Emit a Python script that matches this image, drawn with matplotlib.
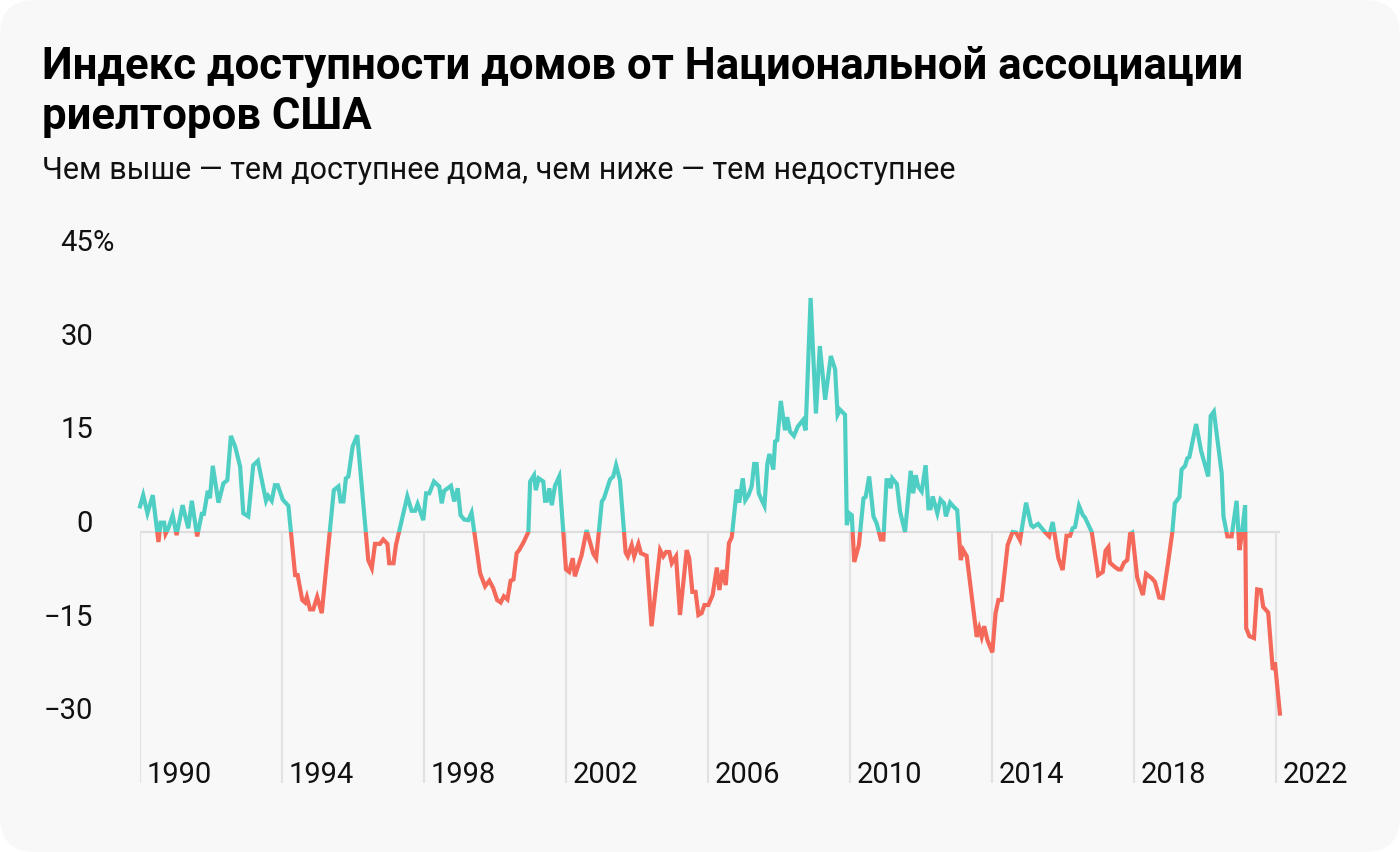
import matplotlib
matplotlib.use("Agg")
import matplotlib.pyplot as plt
import matplotlib.transforms as mtransforms
from matplotlib.patches import FancyBboxPatch, Rectangle
import numpy as np

plt.rcParams["font.family"] = ["Roboto", "DejaVu Sans"]

# данные: дата (десятичный год) и значение индекса, %
dates = [
    1990.00, 1990.09, 1990.21, 1990.36, 1990.52, 1990.58, 1990.68, 1990.72, 1990.80, 1990.92,
    1991.03, 1991.20, 1991.36, 1991.46, 1991.61, 1991.74, 1991.80, 1991.91, 1991.97, 1992.05,
    1992.21, 1992.35, 1992.46, 1992.56, 1992.68, 1992.82, 1992.91, 1993.05, 1993.19, 1993.32,
    1993.55, 1993.61, 1993.71, 1993.80, 1993.88, 1994.02, 1994.18, 1994.37, 1994.44, 1994.57,
    1994.65, 1994.70, 1994.79, 1994.88, 1994.99, 1995.12, 1995.46, 1995.59, 1995.65, 1995.73,
    1995.80, 1995.87, 1995.99, 1996.12, 1996.43, 1996.53, 1996.62, 1996.76, 1996.85, 1996.97,
    1997.02, 1997.14, 1997.21, 1997.53, 1997.65, 1997.75, 1997.82, 1997.98, 1998.06, 1998.15,
    1998.28, 1998.43, 1998.50, 1998.57, 1998.76, 1998.85, 1998.95, 1999.03, 1999.13, 1999.25,
    1999.34, 1999.58, 1999.72, 1999.84, 1999.95, 2000.06, 2000.16, 2000.25, 2000.35, 2000.44,
    2000.52, 2000.61, 2000.68, 2000.80, 2000.94, 2000.99, 2001.10, 2001.15, 2001.23, 2001.36,
    2001.41, 2001.46, 2001.53, 2001.60, 2001.69, 2001.81, 2002.00, 2002.09, 2002.19, 2002.25,
    2002.44, 2002.58, 2002.77, 2002.85, 2003.01, 2003.07, 2003.24, 2003.33, 2003.41, 2003.52,
    2003.68, 2003.74, 2003.85, 2003.92, 2004.04, 2004.11, 2004.27, 2004.41, 2004.65, 2004.74,
    2004.82, 2004.91, 2004.98, 2005.10, 2005.21, 2005.40, 2005.47, 2005.56, 2005.65, 2005.73,
    2005.82, 2005.90, 2006.01, 2006.13, 2006.25, 2006.32, 2006.41, 2006.50, 2006.59, 2006.67,
    2006.81, 2006.88, 2006.98, 2007.05, 2007.14, 2007.23, 2007.30, 2007.37, 2007.43, 2007.49,
    2007.59, 2007.67, 2007.73, 2007.84, 2007.89, 2007.95, 2008.05, 2008.12, 2008.17, 2008.23,
    2008.31, 2008.42, 2008.53, 2008.67, 2008.75, 2008.89, 2009.04, 2009.15, 2009.30, 2009.46,
    2009.58, 2009.65, 2009.72, 2009.86, 2009.91, 2009.98, 2010.05, 2010.12, 2010.25, 2010.38,
    2010.44, 2010.54, 2010.66, 2010.75, 2010.87, 2010.94, 2011.03, 2011.10, 2011.15, 2011.19,
    2011.32, 2011.41, 2011.55, 2011.71, 2011.78, 2011.85, 2011.92, 2012.02, 2012.13, 2012.21,
    2012.27, 2012.33, 2012.46, 2012.55, 2012.65, 2012.70, 2012.82, 2012.91, 2013.02, 2013.12,
    2013.19, 2013.29, 2013.57, 2013.64, 2013.71, 2013.78, 2013.87, 2014.01, 2014.10, 2014.18,
    2014.27, 2014.44, 2014.58, 2014.68, 2014.79, 2014.96, 2015.10, 2015.16, 2015.30, 2015.49,
    2015.61, 2015.71, 2015.87, 2015.99, 2016.10, 2016.20, 2016.27, 2016.34, 2016.45, 2016.56,
    2016.62, 2016.81, 2016.99, 2017.12, 2017.20, 2017.28, 2017.32, 2017.46, 2017.56, 2017.63,
    2017.72, 2017.81, 2017.89, 2017.95, 2018.09, 2018.25, 2018.34, 2018.50, 2018.59, 2018.71,
    2018.81, 2018.95, 2019.08, 2019.15, 2019.28, 2019.34, 2019.44, 2019.50, 2019.56, 2019.75,
    2019.89, 2020.09, 2020.16, 2020.25, 2020.47, 2020.52, 2020.63, 2020.75, 2020.89, 2020.97,
    2021.03, 2021.13, 2021.16, 2021.25, 2021.38, 2021.47, 2021.57, 2021.64, 2021.78, 2021.91,
    2021.97, 2022.11,
]
values = [
    4.1, 5.9, 3.0, 5.9, -1.6, 1.5, 1.5, -0.3, 0.6, 2.7,
    -0.5, 4.3, 0.6, 5.0, -0.7, 2.9, 2.9, 6.6, 5.4, 10.6,
    4.7, 7.8, 8.3, 15.4, 13.7, 10.5, 3.0, 2.5, 10.7, 11.4,
    5.0, 5.8, 5.0, 7.5, 7.5, 5.2, 4.2, -6.9, -6.9, -10.9,
    -11.3, -10.4, -12.4, -12.4, -10.4, -13.0, 6.7, 7.3, 4.9, 4.9,
    8.6, 8.9, 13.7, 15.5, -4.5, -5.8, -1.9, -1.9, -1.2, -1.9,
    -5.0, -5.0, -2.1, 5.7, 3.4, 3.4, 4.5, 1.9, 6.2, 6.2,
    8.1, 7.3, 4.6, 6.6, 7.4, 4.9, 7.0, 2.7, 2.0, 1.9,
    3.1, -6.6, -8.7, -7.8, -9.0, -10.9, -11.3, -10.3, -10.8, -7.8,
    -7.6, -3.4, -2.9, -1.7, 0.0, 8.1, 9.1, 6.7, 8.6, 8.1,
    5.0, 5.0, 7.0, 4.3, 7.4, 8.9, -6.0, -6.4, -4.2, -7.1,
    -3.7, 0.3, -3.5, -4.2, 4.9, 5.4, 8.4, 8.9, 10.7, 8.3,
    -3.3, -3.9, -2.1, -3.9, -1.9, -3.4, -3.8, -15.1, -2.9, -3.9,
    -3.2, -3.2, -5.0, -3.9, -13.3, -2.9, -4.2, -9.6, -9.6, -13.3,
    -13.0, -11.7, -11.7, -10.1, -5.7, -9.3, -6.1, -8.5, -1.8, -0.8,
    6.8, 4.7, 8.6, 5.1, 5.9, 7.3, 10.9, 10.9, 6.2, 5.4,
    4.2, 10.9, 12.5, 10.0, 14.5, 14.7, 21.0, 18.2, 16.3, 18.4,
    16.1, 15.4, 16.9, 17.9, 16.3, 37.5, 19.0, 29.8, 21.2, 28.2,
    26.1, 18.8, 19.6, 18.8, 1.1, 3.0, 2.7, -4.8, -2.1, 5.4,
    5.6, 8.9, 2.5, 1.4, -1.2, -1.2, 8.3, 8.3, 7.0, 8.6,
    7.7, 3.3, 0.0, 9.8, 6.2, 9.1, 7.3, 6.5, 10.7, 3.8,
    3.8, 5.7, 3.0, 5.2, 4.6, 2.5, 4.7, 4.1, 3.5, -4.5,
    -2.9, -3.9, -16.8, -15.4, -16.8, -15.1, -17.3, -19.3, -13.0, -10.9,
    -10.9, -2.1, 0.0, -0.1, -1.3, 4.7, 1.1, 0.8, 1.3, 0.0,
    -0.7, 1.6, -4.2, -6.1, -0.6, -0.6, 0.6, 0.8, 4.2, 2.7,
    2.3, 0.0, -6.9, -6.4, -3.0, -2.4, -4.9, -5.6, -6.0, -6.0,
    -4.9, -4.5, -0.3, -0.1, -7.3, -10.1, -6.7, -7.4, -8.0, -10.5,
    -10.6, -5.3, 0.0, 4.6, 5.6, 10.0, 10.6, 11.8, 12.0, 17.3,
    13.0, 8.9, 18.6, 19.3, 9.4, 2.5, -0.7, -0.7, 5.0, -2.9,
    -0.7, 4.3, -15.4, -16.7, -17.0, -9.2, -9.3, -12.0, -12.9, -22.1,
    -20.9, -29.1,
]

year_ticks = [1990, 1994, 1998, 2002, 2006, 2010, 2014, 2018, 2022]
y_ticks = [45, 30, 15, 0, -15, -30]

teal = "#4fcfc4"
red = "#f4695a"

W, H = 1400, 852
fig = plt.figure(figsize=(W / 100, H / 100), dpi=100, facecolor="white")

card = FancyBboxPatch((0, 0), 1, 1, boxstyle="round,pad=0,rounding_size=0.025",
                      transform=fig.transFigure, facecolor="#f8f8f8", edgecolor="none",
                      mutation_aspect=W / H, zorder=-10)
fig.patches.append(card)

# оси: 1990 -> x=140px, 35.5 px за год; 0 -> y=532px, 6.24 px за 1%
left, right, top, bottom = 140, 1290, 240, 790
ax = fig.add_axes([left / W, 1 - bottom / H, (right - left) / W, (bottom - top) / H])
ax.set_xlim(1990, 1990 + (right - left) / 35.5)
ax.set_ylim((532 - bottom) / 6.24, (532 - top) / 6.24)
ax.axis("off")

x_end = dates[-1]
ax.plot([1990, x_end], [0, 0], color="#dedede", lw=1.6, zorder=1, solid_capstyle="butt")
ax.vlines(year_ticks, (532 - 783) / 6.24, 0, color="#e2e2e2", lw=1.6, zorder=1)

for col, (y0, y1) in [(teal, (0, 100)), (red, (-100, 0))]:
    ln, = ax.plot(dates, values, color=col, lw=3.0, zorder=3,
                  solid_joinstyle="miter")
    clip = Rectangle((1980, y0), 60, y1 - y0, transform=ax.transData)
    ln.set_clip_path(clip)

tick_font = dict(fontsize=21, color="#111111")
xoff = mtransforms.offset_copy(ax.transData, fig=fig, x=7, y=0, units="dots")
for yr in year_ticks:
    ax.text(yr, (532 - 783) / 6.24, str(yr), transform=xoff, ha="left", va="baseline", **tick_font)

ylab_tr = mtransforms.offset_copy(ax.get_yaxis_transform(), fig=fig, x=-47, y=0, units="dots")
for v in y_ticks:
    s = str(abs(v)) if v >= 0 else "\u2212" + str(abs(v))
    ax.text(0, v, s, transform=ylab_tr, ha="right", va="baseline", **tick_font)
    if v == 45:
        ax.text(0, v, "%", transform=ylab_tr, ha="left", va="baseline", **tick_font)

fig.text(42 / W, 1 - 79 / H, "Индекс доступности домов от Национальной ассоциации",
         fontsize=31.5, fontweight="bold", color="#000000", va="baseline")
fig.text(42 / W, 1 - 129 / H, "риелторов США",
         fontsize=31.5, fontweight="bold", color="#000000", va="baseline")
fig.text(42 / W, 1 - 179 / H, "Чем выше — тем доступнее дома, чем ниже — тем недоступнее",
         fontsize=22, color="#111111", va="baseline")

fig.savefig("out.png", dpi=100, facecolor="white")
